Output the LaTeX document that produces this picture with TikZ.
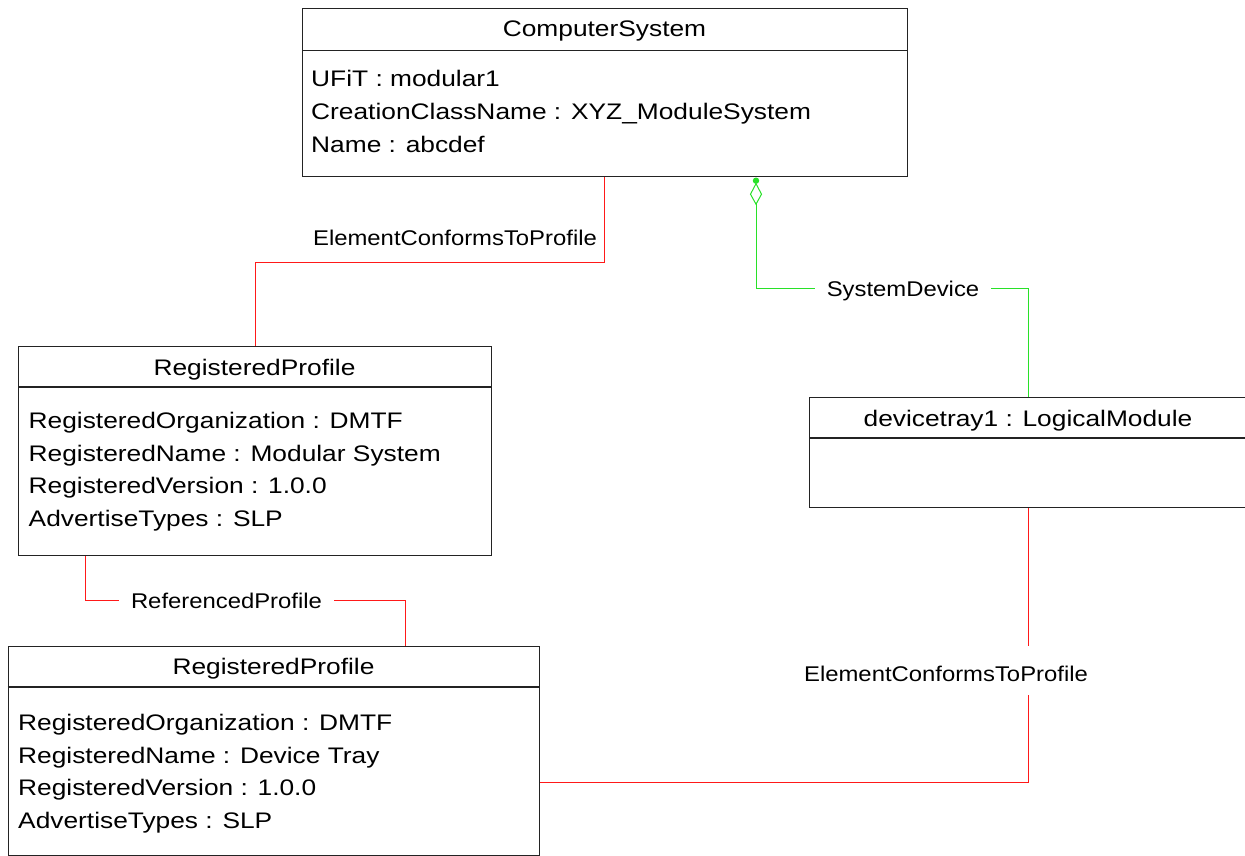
\documentclass[tikz,border=0pt]{standalone}
\usepackage{fontspec}
\setmainfont{Liberation Sans}
\newfontfamily\classfont[FakeStretch=1.17]{Liberation Sans}
\newfontfamily\assocfont[FakeStretch=1.12]{Liberation Sans}
\definecolor{assocred}{RGB}{255,25,25}
\definecolor{assocgreen}{RGB}{40,225,40}
\definecolor{boxgray}{RGB}{35,35,35}
\begin{document}
\begin{tikzpicture}[x=1pt,y=-1pt,
  classbox/.style={draw=boxgray,line width=1.2pt,rectangle,inner sep=0pt,anchor=north west},
  boxline/.style={draw=boxgray,line width=1.2pt},
  classtitle/.style={font=\classfont\fontsize{22.5}{26}\selectfont,inner sep=0pt,anchor=base},
  attr/.style={font=\classfont\fontsize{22.5}{26}\selectfont,inner sep=0pt,anchor=base west},
  assoclabel/.style={font=\assocfont\fontsize{21.3}{25}\selectfont,inner xsep=12pt,inner ysep=0pt,
    text height=16pt,text depth=0pt,anchor=center},
  redlink/.style={draw=assocred,line width=1pt},
  greenlink/.style={draw=assocgreen,line width=1pt},
]
\useasboundingbox (0,0) rectangle (1245,856);

% ComputerSystem
\node[classbox,minimum width=605pt,minimum height=168pt] (cs) at (302,8) {};
\draw[boxline] ([yshift=-42.5pt]cs.north west) -- ([yshift=-42.5pt]cs.north east);
\node[classtitle] (cs-title) at (604.5,37) {ComputerSystem};
\node[attr] (cs-a1) at (311,87) {UFiT : modular1};
\node[attr] (cs-a2) at (311,120) {CreationClassName : XYZ\_ModuleSystem};
\node[attr] (cs-a3) at (311,152.5) {Name : abcdef};

% RegisteredProfile (Modular System)
\node[classbox,minimum width=473pt,minimum height=209.5pt] (rp1) at (18,345.5) {};
\draw[boxline] ([yshift=-41.5pt]rp1.north west) -- ([yshift=-41.5pt]rp1.north east);
\node[classtitle] (rp1-title) at (254.5,375) {RegisteredProfile};
\node[attr] (rp1-a1) at (28.5,428.5) {RegisteredOrganization : DMTF};
\node[attr] (rp1-a2) at (28.5,461) {RegisteredName : Modular System};
\node[attr] (rp1-a3) at (28.5,493.5) {RegisteredVersion : 1.0.0};
\node[attr] (rp1-a4) at (28.5,526) {AdvertiseTypes : SLP};

% devicetray1 : LogicalModule
\node[classbox,minimum width=438pt,minimum height=110pt] (dt) at (809,397) {};
\draw[boxline] ([yshift=-41pt]dt.north west) -- ([yshift=-41pt]dt.north east);
\node[classtitle] (dt-title) at (1028,426) {devicetray1 : LogicalModule};

% RegisteredProfile (Device Tray)
\node[classbox,minimum width=531pt,minimum height=209pt] (rp2) at (7.5,645.5) {};
\draw[boxline] ([yshift=-41.5pt]rp2.north west) -- ([yshift=-41.5pt]rp2.north east);
\node[classtitle] (rp2-title) at (273.5,674) {RegisteredProfile};
\node[attr] (rp2-a1) at (18,730) {RegisteredOrganization : DMTF};
\node[attr] (rp2-a2) at (18,763) {RegisteredName : Device Tray};
\node[attr] (rp2-a3) at (18,795.5) {RegisteredVersion : 1.0.0};
\node[attr] (rp2-a4) at (18,828) {AdvertiseTypes : SLP};

% ElementConformsToProfile: ComputerSystem -- RegisteredProfile
\draw[redlink] ([xshift=302pt]cs.south west) -- ++(0,85) -| ([xshift=237pt]rp1.north west);
\node[assoclabel] (ecp1) at (455,237) {ElementConformsToProfile};

% SystemDevice aggregation
\coordinate (agg) at ([xshift=454pt]cs.south west);
\fill[assocgreen] ([yshift=-3.5pt]agg) circle (3.2pt);
\draw[greenlink] (agg) ++(0,6.5) -- ++(5.5,10.5) -- ++(-5.5,10) -- ++(-5.5,-10) -- cycle;
\node[assoclabel] (sd) at (903,288) {SystemDevice};
\draw[greenlink] ([yshift=-27pt]agg) |- (sd.west);
\draw[greenlink] (sd.east) -| (dt.north);

% ReferencedProfile
\node[assoclabel] (rp) at (226.5,600) {ReferencedProfile};
\draw[redlink] ([xshift=67pt]rp1.south west) |- (rp.west);
\draw[redlink] (rp.east) -| ([xshift=397.5pt]rp2.north west);

% ElementConformsToProfile: devicetray1 -- RegisteredProfile
\node[assoclabel] (ecp2) at (946,673) {ElementConformsToProfile};
\coordinate (trayjoin) at ([yshift=-274pt]dt.south);
\draw[redlink] (dt.south) -- ([yshift=19pt]ecp2.north -| dt.south);
\draw[redlink] ([yshift=-14pt]ecp2.south -| dt.south) -- (trayjoin) -- (rp2.east |- trayjoin);
\end{tikzpicture}
\end{document}
